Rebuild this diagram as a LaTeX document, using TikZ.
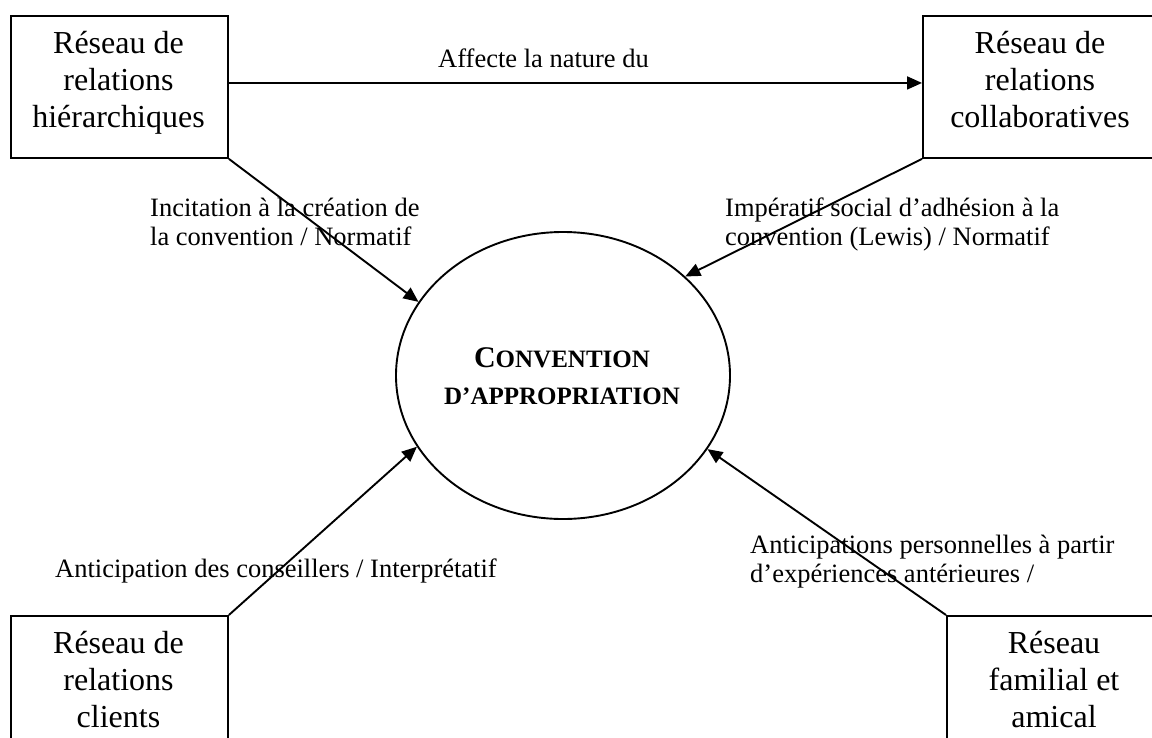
\documentclass[tikz,border=0pt]{standalone}
\usepackage{fontspec}
\setmainfont{Liberation Serif}
\usetikzlibrary{shapes.geometric,arrows.meta}
\begin{document}
\begin{tikzpicture}[x=1pt,y=-1pt,
  box/.style={draw,line width=1.9pt,rectangle,inner sep=0pt,anchor=north west,minimum height=142pt},
  boxtext/.style={inner sep=0pt,anchor=base,font=\fontsize{32}{37}\selectfont},
  lbl/.style={inner sep=0pt,anchor=base west,font=\fontsize{26.5}{29}\selectfont},
  arr/.style={line width=1.9pt,-{Triangle[length=15pt,width=13pt]}},
  conv/.style={draw,ellipse,line width=1.9pt,minimum width=334pt,minimum height=287pt,inner sep=0pt},
  convtext/.style={inner sep=0pt,anchor=base,font=\bfseries\fontsize{25}{37}\selectfont}]
\useasboundingbox (0,0) rectangle (1152,737);
\clip (0,0) rectangle (1152,737);

% boxes
\node[box,minimum width=217pt] (hier) at (10,15) {};
\node[box,minimum width=236pt] (collab) at (922,15) {};
\node[box,minimum width=217pt] (clients) at (10,615) {};
\node[box,minimum width=216pt] (famil) at (946,615) {};

\node[boxtext] (hiert) at (118.5,53) {\begin{tabular}[t]{@{}c@{}}Réseau de\\relations\\hiérarchiques\end{tabular}};
\node[boxtext] (collabt) at (1040,53) {\begin{tabular}[t]{@{}c@{}}Réseau de\\relations\\collaboratives\end{tabular}};
\node[boxtext] (clientst) at (118.5,653) {\begin{tabular}[t]{@{}c@{}}Réseau de\\relations\\clients\end{tabular}};
\node[boxtext] (familt) at (1054,653) {\begin{tabular}[t]{@{}c@{}}Réseau\\familial et\\amical\end{tabular}};

% central ellipse
\node[conv] (conv) at (563,375.5) {};
\node[convtext] (convt) at (562,367) {\begin{tabular}[t]{@{}c@{}}{\fontsize{30}{37}\selectfont C}ONVENTION\\D’APPROPRIATION\end{tabular}};

% labels
\node[lbl] (laff) at (438,67) {Affecte la nature du};
\node[lbl] (lincit) at (150,216) {\begin{tabular}[t]{@{}l@{}}Incitation à la création de\\la convention / Normatif\end{tabular}};
\node[lbl] (limper) at (725,216) {\begin{tabular}[t]{@{}l@{}}Impératif social d’adhésion à la\\convention (Lewis) / Normatif\end{tabular}};
\node[lbl] (lantic) at (55,577) {Anticipation des conseillers / Interprétatif};
\node[lbl] (lantics) at (750,553) {\begin{tabular}[t]{@{}l@{}}Anticipations personnelles à partir\\d’expériences antérieures /\end{tabular}};

% connectors
\draw[arr] ([yshift=4pt]hier.east) -- ([yshift=4pt]collab.west);
\draw[arr] (hier.south east) -- (conv.153.3);
\draw[arr] (collab.south west) -- (conv.39.1);
\draw[arr] (clients.north east) -- (conv.206.4);
\draw[arr] (famil.north west) -- (conv.333.4);
\end{tikzpicture}
\end{document}
